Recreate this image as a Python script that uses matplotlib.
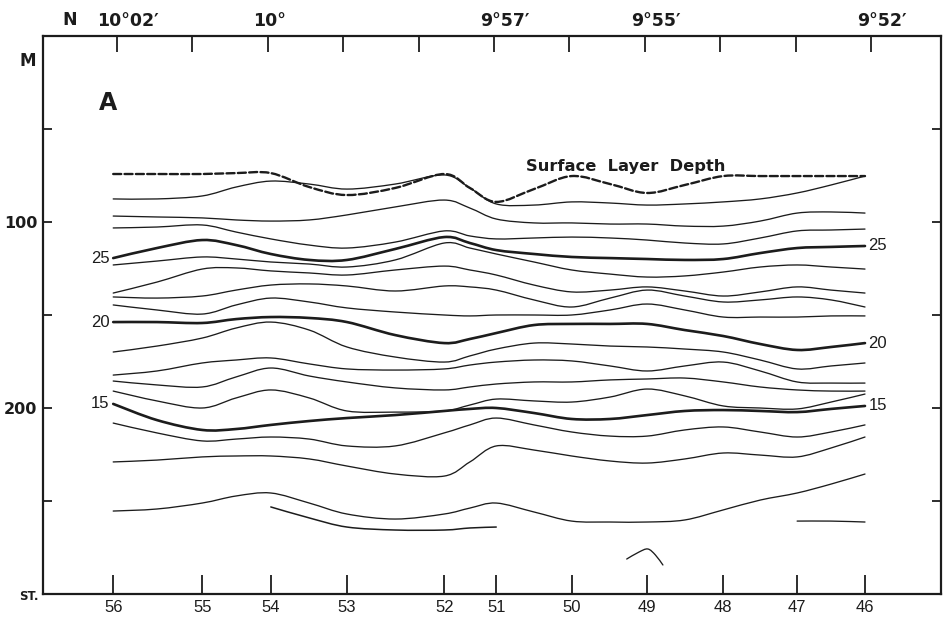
import numpy as np
import matplotlib
matplotlib.use("Agg")
import matplotlib.pyplot as plt
from matplotlib.path import Path
from matplotlib.patches import PathPatch
from matplotlib.transforms import ScaledTranslation

# ---------------------------------------------------------------------------
# Hydrographic section A: stations 56 -> 46, isotherms (deg C) vs depth (m)
# x positions are minutes of latitude south of 10 deg 02 min N
# ---------------------------------------------------------------------------
STATIONS = [56, 55, 54, 53, 52, 51, 50, 49, 48, 47, 46]
STATION_POS = [-0.05, 1.13, 2.04, 3.05, 4.34, 5.03, 6.03, 7.03, 8.04, 9.02, 9.92]

LAT_TICKS = list(range(11))
LAT_LABELS = {0: "10°02′", 2: "10°", 5: "9°57′", 7: "9°55′", 10: "9°52′"}

DEPTH_TICKS = [50, 100, 150, 200, 250]
DEPTH_LABELS = ["", "100", "", "200", ""]

# reading positions along the section (stations and between stations)
X_READ = [-0.05, 0.53, 1.13, 1.58, 2.04, 2.55, 3.05, 3.69, 4.34, 4.68, 5.03,
          5.53, 6.03, 6.54, 7.03, 7.53, 8.04, 8.53, 9.02, 9.47, 9.92]

# surface layer depth (m)
SLD = [74.2, 74.2, 74.2, 73.7, 73.7, 81.2, 85.5, 81.7, 74.2, 81.7, 89.2,
       82.3, 75.3, 79.6, 84.4, 80.1, 75.3, 75.3, 75.3, 75.3, 75.3]

# isotherm depths (m), shallow to deep
ISO_A = [87.6, 87.6, 86.0, 81.2, 78.0, 79.6, 82.3, 79.6, 74.7, 81.7, 90.3,
         90.9, 89.2, 89.8, 90.9, 90.3, 89.2, 87.6, 84.4, 80.1, 75.3]
ISO_B = [96.8, 97.3, 97.8, 98.9, 99.5, 98.9, 96.2, 91.9, 88.2, 92.5, 98.4,
         100.5, 100.5, 101.1, 101.1, 102.2, 102.2, 99.5, 95.2, 94.6, 95.2]
ISO_C = [103.2, 102.7, 101.6, 105.4, 109.1, 112.4, 114.0, 110.8, 104.8, 107.5, 109.1,
         108.6, 108.1, 108.6, 109.7, 111.3, 111.8, 108.6, 104.8, 104.3, 103.8]
ISO_25 = [119.4, 114.0, 109.7, 112.4, 117.2, 120.4, 120.4, 114.5, 108.1, 111.3, 115.1,
          117.2, 118.8, 119.4, 119.9, 120.4, 119.9, 116.7, 114.0, 113.4, 112.9]
ISO_E = [123.1, 121.0, 118.8, 119.9, 121.5, 122.6, 124.2, 120.4, 111.3, 114.0, 117.2,
         121.5, 125.8, 128.0, 129.6, 129.0, 126.9, 124.2, 123.1, 124.2, 125.3]
ISO_F = [138.2, 132.3, 125.3, 124.7, 126.3, 127.4, 128.5, 125.8, 123.7, 125.8, 128.5,
         133.9, 137.6, 136.6, 134.9, 137.1, 139.8, 137.6, 134.9, 136.6, 138.2]
ISO_G = [140.3, 140.9, 139.8, 136.6, 133.9, 133.3, 134.4, 137.1, 134.4, 134.9, 136.6,
         141.9, 145.7, 140.9, 136.6, 139.8, 143.0, 141.9, 140.3, 141.9, 145.7]
ISO_H = [144.6, 147.3, 149.5, 144.6, 140.9, 143.0, 146.2, 148.4, 150.0, 150.5, 150.0,
         150.0, 150.0, 147.3, 144.1, 147.3, 151.1, 151.1, 151.1, 150.5, 150.5]
ISO_20 = [153.8, 153.8, 154.3, 152.2, 151.1, 151.6, 153.8, 160.8, 165.1, 162.9, 159.7,
          155.4, 154.8, 154.8, 154.8, 158.1, 161.3, 165.6, 168.8, 167.2, 165.1]
ISO_J = [169.9, 166.7, 162.4, 157.0, 153.8, 158.1, 167.2, 172.6, 175.3, 172.0, 168.3,
         165.1, 165.6, 166.7, 167.2, 168.3, 169.9, 174.2, 179.0, 177.4, 175.8]
ISO_K = [182.3, 180.1, 175.8, 174.2, 173.1, 176.3, 179.0, 179.6, 179.0, 176.9, 175.3,
         174.2, 174.7, 177.4, 180.1, 177.4, 175.3, 180.1, 186.0, 186.6, 186.6]
ISO_L = [185.5, 187.6, 188.7, 183.3, 178.5, 182.8, 186.0, 189.2, 190.3, 188.7, 187.1,
         186.0, 186.0, 184.9, 184.4, 183.9, 186.0, 188.7, 190.3, 190.9, 190.9]
ISO_M = [190.9, 196.2, 200.0, 194.6, 190.3, 194.6, 201.6, 202.2, 201.6, 198.4, 195.2,
         196.2, 196.8, 194.1, 189.8, 193.5, 198.9, 200.0, 200.5, 196.8, 192.5]
ISO_15 = [197.8, 206.5, 211.8, 211.3, 209.1, 207.0, 205.4, 203.8, 201.6, 200.5, 200.0,
          202.7, 205.9, 205.9, 203.8, 201.6, 201.1, 201.6, 202.2, 200.5, 198.9]
ISO_N = [208.1, 213.4, 217.7, 216.7, 215.6, 216.7, 220.4, 220.4, 213.4, 209.1, 205.4,
         209.1, 212.9, 215.1, 215.1, 211.8, 210.2, 212.9, 215.6, 212.9, 209.1]
ISO_O = [229.0, 228.0, 226.3, 225.8, 225.8, 227.4, 231.2, 235.5, 236.6, 229.0, 220.4,
         222.6, 225.8, 228.5, 229.6, 227.4, 224.2, 225.3, 226.3, 221.5, 215.6]
ISO_P = [255.4, 254.3, 251.1, 247.3, 245.7, 251.1, 257.0, 259.7, 257.0, 253.8, 251.1,
         255.9, 260.8, 261.3, 261.3, 260.2, 254.8, 249.5, 245.7, 240.9, 235.5]

# partial isotherms
ISO_Q_X = [2.04, 2.55, 3.05, 3.69, 4.34, 4.68, 5.03]
ISO_Q = [253.2, 259.1, 264.0, 265.6, 265.6, 264.5, 264.0]
ISO_R_X = [9.02, 9.47, 9.92]
ISO_R = [260.8, 260.8, 261.3]
ISO_S_X = [6.76, 6.92, 7.04, 7.14, 7.24]
ISO_S = [281.2, 277.5, 275.8, 279.0, 284.4]

FULL_LINES = [
    (ISO_A, "thin"), (ISO_B, "thin"), (ISO_C, "thin"), (ISO_25, "bold"),
    (ISO_E, "thin"), (ISO_F, "thin"), (ISO_G, "thin"), (ISO_H, "thin"),
    (ISO_20, "bold"), (ISO_J, "thin"), (ISO_K, "thin"), (ISO_L, "thin"),
    (ISO_M, "thin"), (ISO_15, "bold"), (ISO_N, "thin"), (ISO_O, "thin"),
    (ISO_P, "thin"),
]
LABELLED = [("25", ISO_25), ("20", ISO_20), ("15", ISO_15)]

INK = "#1c1c1c"
HEAVY = "DejaVu Sans"
LIGHT = "Liberation Sans"


def smooth_path(x, y, tension=1.0 / 6.0):
    """Catmull-Rom curve through the readings, as cubic Bezier segments."""
    p = np.column_stack([x, y]).astype(float)
    ext = np.vstack([p[0], p, p[-1]])
    verts = [p[0]]
    codes = [Path.MOVETO]
    for i in range(len(p) - 1):
        p0, p1, p2, p3 = ext[i], ext[i + 1], ext[i + 2], ext[i + 3]
        c1 = p1 + (p2 - p0) * tension
        c2 = p2 - (p3 - p1) * tension
        verts += [c1, c2, p2]
        codes += [Path.CURVE4] * 3
    return Path(verts, codes)


def draw_curve(ax, x, y, lw, **kw):
    patch = PathPatch(smooth_path(x, y), fill=False, lw=lw, ec=INK,
                      capstyle="round", joinstyle="round", **kw)
    ax.add_patch(patch)


fig = plt.figure(figsize=(9.43, 6.18), dpi=100)
ax = fig.add_axes([43 / 943, 24 / 618, 898 / 943, 558 / 618])
ax.set_xlim(-0.981, 10.928)
ax.set_ylim(300, 0)

for vals, kind in FULL_LINES:
    draw_curve(ax, X_READ, vals, 1.9 if kind == "bold" else 0.95)
draw_curve(ax, ISO_Q_X, ISO_Q, 1.1)
draw_curve(ax, ISO_R_X, ISO_R, 0.95)
draw_curve(ax, ISO_S_X, ISO_S, 0.95)
draw_curve(ax, X_READ, SLD, 1.7, linestyle=(0, (3.4, 1.4)))

# isotherm labels at both ends of the section
for txt, vals in LABELLED:
    ax.annotate(txt, xy=(X_READ[0], vals[0]), xytext=(-2.5, 0),
                textcoords="offset points", ha="right", va="center",
                fontsize=12, color=INK, family=LIGHT)
    ax.annotate(txt, xy=(X_READ[-1], vals[-1]), xytext=(2.5, 0),
                textcoords="offset points", ha="left", va="center",
                fontsize=12, color=INK, family=LIGHT)

ax.text(0.0724, 0.880, "A", transform=ax.transAxes, fontsize=17,
        fontweight="bold", family=HEAVY, color=INK, ha="center", va="center")
ax.text(0.649, 0.767, "Surface  Layer  Depth", transform=ax.transAxes,
        fontsize=11.7, fontweight="bold", family=HEAVY, color=INK,
        ha="center", va="center")

# frame and ticks
for sp in ax.spines.values():
    sp.set_linewidth(1.6)
    sp.set_color(INK)

ax.set_xticks(STATION_POS)
ax.set_xticklabels([str(s) for s in STATIONS], fontsize=12, color=INK,
                   family=LIGHT)
ax.tick_params(axis="x", direction="in", length=13.5, width=1.3, pad=4,
               colors=INK)
ax.set_yticks(DEPTH_TICKS)
ax.set_yticklabels(DEPTH_LABELS, fontsize=11.5, fontweight="bold",
                   family=HEAVY, color=INK)
ax.tick_params(axis="y", direction="in", length=6.5, width=1.3, pad=4,
               left=True, right=True, colors=INK)

top = ax.twiny()
top.set_xlim(ax.get_xlim())
top.set_xticks(LAT_TICKS)
top.set_xticklabels([LAT_LABELS.get(t, "") for t in LAT_TICKS], fontsize=12.5,
                    fontweight="bold", family=HEAVY, color=INK)
top.tick_params(axis="x", direction="in", length=11.5, width=1.3, pad=4,
                colors=INK)
for sp in top.spines.values():
    sp.set_visible(False)

# the latitude labels sit slightly right of their ticks
label_shift = {0: 7.6, 2: 1.4, 5: 7.9, 7: 7.9, 10: 7.9}
for t, lbl in zip(LAT_TICKS, top.get_xticklabels()):
    if t in label_shift:
        lbl.set_transform(lbl.get_transform()
                          + ScaledTranslation(label_shift[t] / 72, 0,
                                              fig.dpi_scale_trans))

fig.text(70 / 943, 1 - 20 / 618, "N", fontsize=12.5, fontweight="bold",
         family=HEAVY, color=INK, ha="center", va="center")
fig.text(28 / 943, 1 - 61 / 618, "M", fontsize=12, fontweight="bold",
         family=HEAVY, color=INK, ha="center", va="center")
fig.text(29 / 943, 1 - 596 / 618, "ST.", fontsize=8.5, fontweight="bold",
         family=HEAVY, color=INK, ha="center", va="center")

fig.savefig("out.png", dpi=100)
